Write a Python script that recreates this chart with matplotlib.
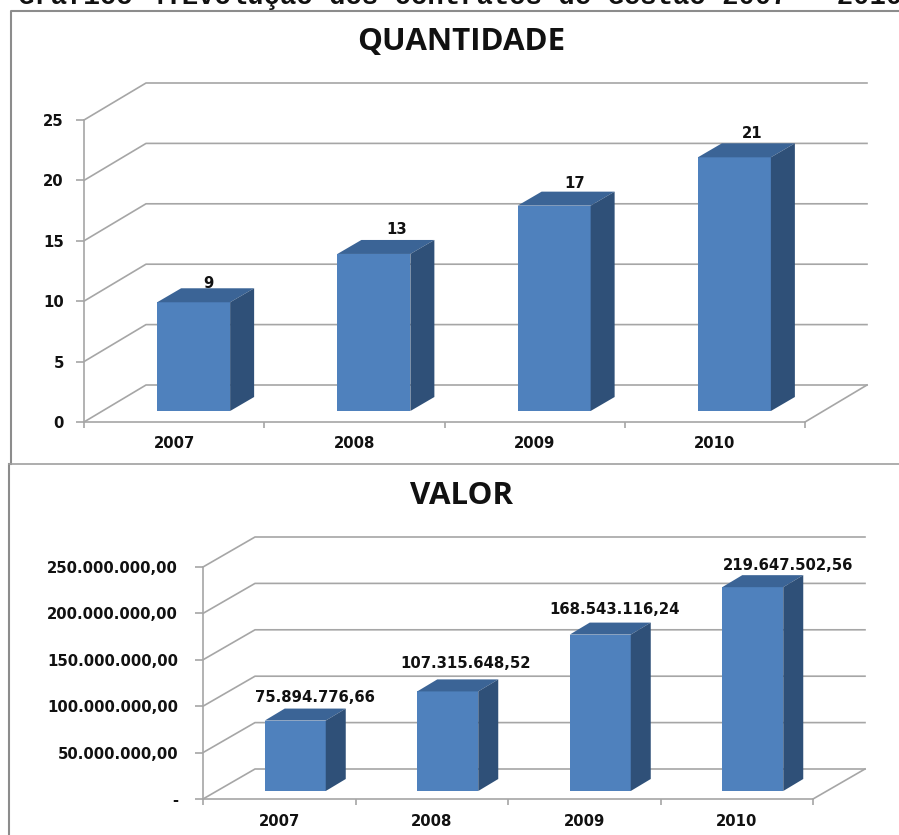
import matplotlib
matplotlib.use("Agg")
import matplotlib.pyplot as plt
from matplotlib.patches import Polygon, Rectangle
from matplotlib.lines import Line2D

years = ["2007", "2008", "2009", "2010"]
qtd_values = [9, 13, 17, 21]
qtd_labels = ["9", "13", "17", "21"]
qtd_ticks = [0, 5, 10, 15, 20, 25]
qtd_ticklabels = ["0", "5", "10", "15", "20", "25"]
val_values = [75894776.66, 107315648.52, 168543116.24, 219647502.56]
val_labels = ["75.894.776,66", "107.315.648,52", "168.543.116,24", "219.647.502,56"]
val_ticks = [0, 50e6, 100e6, 150e6, 200e6, 250e6]
val_ticklabels = ["-", "50.000.000,00", "100.000.000,00", "150.000.000,00", "200.000.000,00", "250.000.000,00"]

W, H = 899, 835
GRID = "#a6a6a6"
FRONT = "#4f81bd"
TOP = "#3b6496"
SIDE = "#2f5078"
TXT = "#111111"
NUM_FONT = "DejaVu Sans"
TITLE_FONT = "Open Sans"

fig = plt.figure(figsize=(W / 100, H / 100), dpi=100)
bg = fig.add_axes([0, 0, 1, 1])
bg.set_xlim(0, W)
bg.set_ylim(H, 0)
bg.axis("off")


def chart(box, title, title_y, values, labels, ticks, ticklabels, ymax, wall, bar, fs, xpad, ypad, lab_off):
    # box = front plane in pixels (left, right, y of 0, y of top)
    x0, x1, y0, ytop = box
    ax = fig.add_axes([x0 / W, 1 - y0 / H, (x1 - x0) / W, (y0 - ytop) / H])
    ax.set_xlim(0, 4)
    ax.set_ylim(0, ymax)
    ax.patch.set_alpha(0)
    ax.set_zorder(2)
    for s in ["top", "right"]:
        ax.spines[s].set_visible(False)
    for s in ["left", "bottom"]:
        ax.spines[s].set_color(GRID)
        ax.spines[s].set_linewidth(1.2)

    # pixels to data units, for the fake depth
    ux = 4 / (x1 - x0)
    uy = ymax / (y0 - ytop)
    dx, dy = wall[0] * ux, wall[1] * uy

    for t in ticks:
        ax.add_line(Line2D([0, dx, 4 + dx], [t, t + dy, t + dy], color=GRID, lw=1.2, clip_on=False, zorder=1))
    ax.add_line(Line2D([4, 4 + dx], [0, dy], color=GRID, lw=1.2, clip_on=False, zorder=1))

    bw = bar[0] * ux
    sx, sy = bar[1] * ux, bar[2] * uy
    ddx, ddy = bar[3] * ux, bar[4] * uy
    for i, v in enumerate(values):
        left = i + 0.5 + sx - bw / 2
        right = left + bw
        ax.add_patch(Rectangle((left, sy), bw, v, fc=FRONT, ec="none", clip_on=False, zorder=3))
        ax.add_patch(Polygon([(left, sy + v), (right, sy + v), (right + ddx, sy + v + ddy), (left + ddx, sy + v + ddy)],
                             fc=TOP, ec="none", clip_on=False, zorder=3))
        ax.add_patch(Polygon([(right, sy), (right + ddx, sy + ddy), (right + ddx, sy + v + ddy), (right, sy + v)],
                             fc=SIDE, ec="none", clip_on=False, zorder=3))
        ax.text(i + 0.5 + sx + ddx / 2 + lab_off[i][0] * ux, sy + v + ddy + lab_off[i][1] * uy, labels[i],
                ha="center", va="center", fontsize=fs, fontweight="bold", family=NUM_FONT, color=TXT,
                zorder=4, clip_on=False)

    ax.set_xticks([0, 1, 2, 3, 4])
    ax.set_xticklabels([])
    ax.set_xticks([0.5, 1.5, 2.5, 3.5], years, minor=True)
    ax.tick_params(axis="x", which="major", color=GRID, length=4, width=1.2)
    ax.tick_params(axis="x", which="minor", length=0, pad=xpad, labelsize=fs, labelcolor=TXT)
    ax.set_yticks(ticks, ticklabels)
    ax.tick_params(axis="y", color=GRID, length=6, width=1.2, pad=ypad, labelsize=fs, labelcolor=TXT)
    for lb in ax.get_xticklabels(minor=True) + ax.get_yticklabels():
        lb.set_fontweight("bold")
        lb.set_family(NUM_FONT)
    bg.text(461, title_y, title, ha="center", va="center", fontsize=22.5, fontweight="bold",
            family=TITLE_FONT, color=TXT)


# outer frames
bg.add_line(Line2D([10.5, 10.5, 899], [464, 11, 11], color="#8c8c8c", lw=1.5))
bg.add_line(Line2D([9, 9], [835, 464], color="#8c8c8c", lw=1.5))
bg.add_line(Line2D([9, 899], [464, 464], color="#a0a0a0", lw=1.2))

# header line, cut off at the top of the scan
bg.text(18, 4, "Gráfico 4.Evolução dos contratos de Gestão 2007 - 2010", ha="left", va="baseline", fontsize=19.6,
        fontweight="bold", family="Liberation Mono", color=TXT)

chart((84, 805, 422, 120), "QUANTIDADE", 42, qtd_values, qtd_labels, qtd_ticks, qtd_ticklabels, 25,
      (62, 37), (73, 19.5, 11, 24, 14), 10.7, 10, 8.5, [(3, 5), (11, 10), (8, 8), (6, 10)])
chart((203, 813, 799, 567), "VALOR", 496, val_values, val_labels, val_ticks, val_ticklabels, 250e6,
      (52, 30), (61, 16, 8, 20, 12), 10.7, 10.5, 12, [(10, 11), (8, 16), (4, 13), (25, 10)])

fig.savefig("out.png", dpi=100)
